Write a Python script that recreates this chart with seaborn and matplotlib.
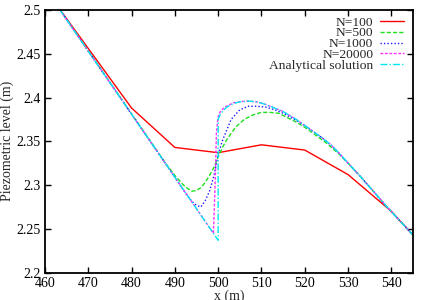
import numpy as np
import pandas as pd
import matplotlib
matplotlib.use("Agg")
import matplotlib.pyplot as plt
import seaborn as sns

# ---- data ----
x_n100 = [460, 470, 480, 490, 500, 510, 520, 530, 540, 550]
y_n100 = [2.524, 2.456, 2.388, 2.343, 2.337, 2.346, 2.340, 2.312, 2.270, 2.216]

x_tail = [522, 524, 526, 528, 530, 533, 536, 539, 542, 545]
y_tail = [2.361, 2.354, 2.346, 2.336, 2.325, 2.309, 2.292, 2.275, 2.259, 2.243]

x_ana = [460, 500.0, 500.0, 500.5, 501.2, 502, 503.5, 505, 507, 509, 511, 513, 515, 518, 520] + x_tail
y_ana = [2.525, 2.237, 2.375, 2.381, 2.385, 2.389, 2.393, 2.395, 2.396, 2.395, 2.392, 2.388, 2.384, 2.375, 2.368] + y_tail

x_n500 = [460, 488, 490, 492, 493, 494, 495, 496, 497, 498, 499, 500, 501, 502, 504, 506, 508, 510,
          512, 514, 516, 518, 520, 522, 525, 528, 530, 533, 536, 539, 542, 545]
y_n500 = [2.525, 2.324, 2.311, 2.300, 2.296, 2.293, 2.294, 2.297, 2.303, 2.311, 2.320, 2.332, 2.343,
          2.352, 2.366, 2.375, 2.380, 2.383, 2.383, 2.382, 2.377, 2.372, 2.366, 2.359, 2.348, 2.335,
          2.325, 2.309, 2.292, 2.275, 2.259, 2.243]

x_n1000 = [460, 490, 492, 494, 495, 496, 497, 498, 499, 500, 501, 502, 503, 505, 507, 509, 511, 513,
           515, 518, 520] + x_tail
y_n1000 = [2.525, 2.309, 2.294, 2.281, 2.277, 2.275, 2.282, 2.293, 2.310, 2.335, 2.351, 2.363, 2.375,
           2.386, 2.390, 2.390, 2.389, 2.386, 2.382, 2.374, 2.368] + y_tail

x_n20000 = [460, 498.9, 499.3, 499.6, 500.0, 500.5, 501.5, 503.5, 506.5, 509, 511, 513, 515, 518, 520] + x_tail
y_n20000 = [2.525, 2.245, 2.300, 2.360, 2.378, 2.384, 2.389, 2.394, 2.396, 2.395, 2.392, 2.388, 2.384,
            2.375, 2.368] + y_tail

labels = ["N=100", "N=500", "N=1000", "N=20000", "Analytical solution"]
colors = ["#ff0000", "#1ee01e", "#1a1aff", "#ff30ff", "#00e8f0"]
dashes = [(None, None), (3, 1.5), (1, 1.5), (2, 1.2), (5, 1.5, 1, 1.5)]

series = [(x_n100, y_n100), (x_n500, y_n500), (x_n1000, y_n1000), (x_n20000, y_n20000), (x_ana, y_ana)]

sns.set_theme(style="ticks")
plt.rcParams['font.family'] = ['Liberation Serif', 'DejaVu Serif']

fig = plt.figure(figsize=(4.28, 3.0), dpi=100)
ax = fig.add_axes([0.105, 0.091, 0.86, 0.876])

for (xs, ys), lab, c, d in zip(series, labels, colors, dashes):
    df = pd.DataFrame({"x": xs, "y": ys})
    sns.lineplot(data=df, x="x", y="y", ax=ax, estimator=None, sort=False,
                 color=c, lw=1.0, label=lab)
    line = ax.lines[-1]
    if d[0] is not None:
        line.set_dashes(d)

ax.set_xlim(460, 545)
ax.set_ylim(2.2, 2.5)
ax.set_xticks([460, 470, 480, 490, 500, 510, 520, 530, 540])
ax.set_yticks([2.2, 2.25, 2.3, 2.35, 2.4, 2.45, 2.5])
ax.set_yticklabels(["2.2", "2.25", "2.3", "2.35", "2.4", "2.45", "2.5"])
ax.tick_params(direction="in", top=True, right=True, length=4, width=1, labelsize=10,
               colors="black", pad=3)
for s in ax.spines.values():
    s.set_linewidth(1.3)
    s.set_color("black")
ax.set_xlabel("x (m)", fontsize=10, labelpad=-0.5)
ax.set_ylabel("Piezometric level (m)", fontsize=10, labelpad=2)

ax.legend(loc="upper right", frameon=False, markerfirst=False, fontsize=9.7,
          handlelength=1.75, handletextpad=0.5, labelspacing=-0.12,
          borderaxespad=0.3, bbox_to_anchor=(1.0, 1.012))

fig.savefig("out.png", dpi=100)
